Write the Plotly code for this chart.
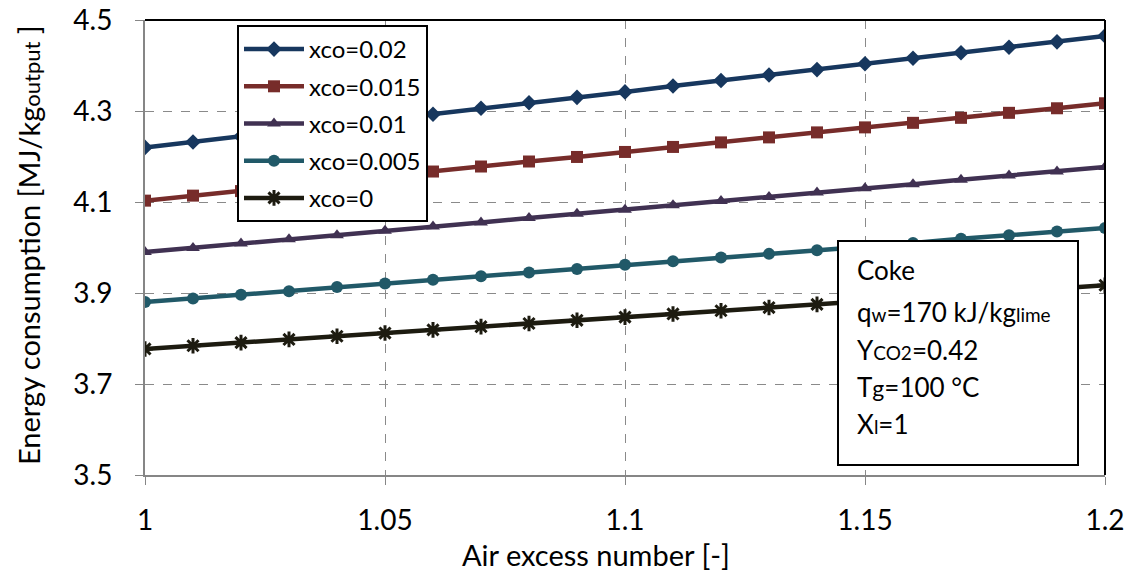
import plotly.graph_objects as go

x_vals = [1.00, 1.01, 1.02, 1.03, 1.04, 1.05, 1.06, 1.07, 1.08, 1.09, 1.10,
          1.11, 1.12, 1.13, 1.14, 1.15, 1.16, 1.17, 1.18, 1.19, 1.20]

xco_002 = [4.220, 4.232, 4.244, 4.257, 4.269, 4.281, 4.293, 4.306, 4.318, 4.330, 4.342,
           4.355, 4.367, 4.379, 4.391, 4.404, 4.416, 4.428, 4.440, 4.452, 4.465]
xco_0015 = [4.103, 4.114, 4.124, 4.135, 4.146, 4.156, 4.167, 4.178, 4.189, 4.199, 4.210,
            4.221, 4.231, 4.242, 4.253, 4.264, 4.274, 4.285, 4.296, 4.306, 4.317]
xco_001 = [3.990, 3.999, 4.009, 4.018, 4.027, 4.037, 4.046, 4.055, 4.065, 4.074, 4.083,
           4.093, 4.102, 4.111, 4.121, 4.130, 4.139, 4.149, 4.158, 4.167, 4.177]
xco_0005 = [3.880, 3.888, 3.896, 3.904, 3.913, 3.921, 3.929, 3.937, 3.945, 3.953, 3.962,
            3.970, 3.978, 3.986, 3.994, 4.002, 4.010, 4.019, 4.027, 4.035, 4.043]
xco_0 = [3.777, 3.784, 3.791, 3.798, 3.805, 3.812, 3.819, 3.826, 3.833, 3.840, 3.847,
         3.854, 3.861, 3.868, 3.875, 3.882, 3.889, 3.896, 3.903, 3.910, 3.917]

series_names = ["xco=0.02", "xco=0.015", "xco=0.01", "xco=0.005", "xco=0"]
series_values = [xco_002, xco_0015, xco_001, xco_0005, xco_0]
series_colors = ["#17375E", "#772C2A", "#403152", "#215968", "#1D1B10"]
series_symbols = ["diamond", "square", "triangle-up", "circle", "asterisk-open"]

x_ticks = [1, 1.05, 1.1, 1.15, 1.2]
x_ticktext = ["1", "1.05", "1.1", "1.15", "1.2"]
y_ticks = [3.5, 3.7, 3.9, 4.1, 4.3, 4.5]
y_ticktext = ["3.5", "3.7", "3.9", "4.1", "4.3", "4.5"]

x_title = "Air excess number [-]"
y_title = "Energy consumption [MJ/kg<span style='font-size:22px'>output</span> ]"

FONT = "Lato, Carlito, Calibri, sans-serif"

fig = go.Figure()
for i, (name, vals, col, sym) in enumerate(zip(series_names, series_values, series_colors, series_symbols)):
    if sym == "asterisk-open":
        marker = dict(symbol=sym, size=13, color=col, line=dict(color=col, width=3))
    else:
        marker = dict(symbol=sym, size=12, color=col, line=dict(width=0))
    fig.add_trace(go.Scatter(x=x_vals, y=vals, mode="lines+markers", name=name,
                             legendgroup="g%d" % i,
                             line=dict(color=col, width=4.5), marker=marker))

fig.update_layout(
    width=1131, height=573,
    margin=dict(l=145, r=26, t=20, b=98),
    paper_bgcolor="white", plot_bgcolor="white",
    font=dict(family=FONT, size=28, color="black"),
    showlegend=True,
    legend=dict(x=(237 - 145) / 960, y=(475 - 25) / 455, xanchor="left", yanchor="top",
                bgcolor="white", bordercolor="black", borderwidth=2,
                font=dict(size=24, family=FONT), tracegroupgap=3, itemwidth=60),
    xaxis=dict(range=[1, 1.2], tickvals=x_ticks, ticktext=x_ticktext,
               showgrid=True, gridcolor="#8a8a8a", griddash="dash", gridwidth=1,
               showline=True, linecolor="#868686", linewidth=2,
               ticks="outside", ticklen=8, tickcolor="#868686", automargin=False,
               ticklabelstandoff=11, zeroline=False, tickfont=dict(size=28)),
    yaxis=dict(range=[3.5, 4.5], tickvals=y_ticks, ticktext=y_ticktext,
               showgrid=True, gridcolor="#8a8a8a", griddash="dash", gridwidth=1,
               showline=True, linecolor="#868686", linewidth=2,
               ticks="outside", ticklen=8, tickcolor="#868686", automargin=False,
               ticklabelstandoff=17, zeroline=False, tickfont=dict(size=28)),
)

# axis titles
fig.add_annotation(xref="paper", yref="paper", x=(596 - 145) / 960, y=(475 - 554) / 455,
                   xanchor="center", yanchor="middle", text=x_title, showarrow=False,
                   font=dict(size=29, family=FONT, color="black"))
fig.add_annotation(xref="paper", yref="paper", x=(28 - 145) / 960, y=(475 - 245) / 455,
                   xanchor="center", yanchor="middle", text=y_title, showarrow=False,
                   textangle=-90, font=dict(size=29, family=FONT, color="black"))

# plot-area border (top and right)
fig.add_shape(type="line", xref="paper", yref="paper", x0=0, x1=1, y0=1, y1=1,
              line=dict(color="black", width=2), layer="above")
fig.add_shape(type="line", xref="paper", yref="paper", x0=1, x1=1, y0=0, y1=1,
              line=dict(color="black", width=2), layer="above")

# annotation box
fig.add_shape(type="rect", xref="paper", yref="paper",
              x0=(838 - 145) / 960, x1=(1078 - 145) / 960,
              y0=(475 - 465) / 455, y1=(475 - 241) / 455,
              fillcolor="white", line=dict(color="black", width=2), layer="above")

small = "<span style='font-size:19px'>{}</span>"
box_lines = [
    "Coke",
    "q" + small.format("w") + "=170 kJ/kg" + small.format("lime"),
    "Y" + small.format("CO2") + "=0.42",
    "T" + "<span style='font-size:23px'>g</span>" + "=100 °C",
    "X" + small.format("l") + "=1",
]
box_y = [270, 312, 350, 387, 424]
for txt, py in zip(box_lines, box_y):
    fig.add_annotation(xref="paper", yref="paper", x=(855 - 145) / 960, y=(475 - py) / 455,
                       xanchor="left", yanchor="middle", text=txt, showarrow=False,
                       font=dict(size=26, family=FONT, color="black"), align="left")

fig.write_html("out.html")
